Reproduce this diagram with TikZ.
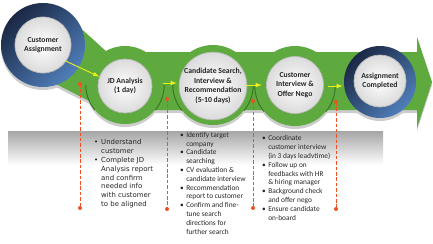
\documentclass[tikz,border=0pt]{standalone}
\usepackage{fontspec}
\setmainfont{Carlito}
\newfontfamily\verd{DejaVu Sans}
\usetikzlibrary{calc}

\definecolor{band}{RGB}{94,170,62}
\definecolor{bandedge}{RGB}{56,116,36}
\definecolor{navy}{RGB}{26,40,68}
\definecolor{steel}{RGB}{80,126,186}
\definecolor{flash}{RGB}{232,240,24}
\definecolor{lead}{RGB}{240,80,36}

\tikzset{
  floor/.style={fill=gray!40},
  loop/.style={circle, fill=band, inner sep=0pt},
  tube/.style={circle, inner sep=0pt, top color=navy, bottom color=steel, shading angle=45},
  core/.style={circle, inner sep=0pt, inner color=white, outer color=gray!28,
    draw=gray!55, line width=0.6pt, align=center, text=black!85,
    font=\fontsize{6.6}{8.2}\selectfont\bfseries},
  seam/.style={draw=bandedge, line width=0.8pt},
  flow/.style={draw=flash, line width=0.8pt, -latex},
  lead/.style={draw=lead, line width=0.85pt, dash pattern=on 3pt off 1.6pt},
  pin/.style={fill=lead},
  note/.style={anchor=north west, inner sep=0pt, text=black!85}
}

\begin{document}
\begin{tikzpicture}[x=0.03cm, y=-0.03cm]
  \useasboundingbox (0,0) rectangle (433,243);

  % grey floor under the arrow
  \shade[top color=gray!70, bottom color=white] (8,131) rectangle (383,165);

  % shadow of the arrow
  \begin{scope}[shift={(0,3)}]
    \fill[floor] (76,24) -- (107,52) -- (417,52) -- (417,37) -- (432,82)
      -- (417,128) -- (417,110) -- (107,110) -- (48,80) -- cycle;
    \fill[floor] (43,45) circle (42);
    \fill[floor] (125,85) circle (39);
    \fill[floor] (213,85) circle (40);
    \fill[floor] (295,86) circle (40);
    \fill[floor] (380,82) circle (36);
  \end{scope}

  % the arrow body
  \fill[band] (76,24) -- (107,52) -- (417,52) -- (417,37) -- (432,82)
    -- (417,128) -- (417,110) -- (107,110) -- (48,80) -- cycle;
  \node[loop, minimum size=2.34cm] (rjd) at (125,85) {};
  \node[loop, minimum size=2.4cm] (rcs) at (213,85) {};
  \node[loop, minimum size=2.4cm] (rci) at (295,86) {};

  % ring edges inside the band
  \draw[seam] (rjd.west) arc[start angle=180, end angle=140, radius=39];
  \draw[seam] (rjd.east) arc[start angle=0, end angle=40, radius=39];
  \draw[seam] (rcs.west) arc[start angle=180, end angle=140, radius=40];
  \draw[seam] (rcs.east) arc[start angle=0, end angle=40, radius=40];
  \draw[seam] (rci.west) arc[start angle=180, end angle=140, radius=40];
  \draw[seam] (rci.east) arc[start angle=0, end angle=40, radius=40];

  % start and end rings
  \node[tube, minimum size=2.52cm] (rca) at (43,45) {};
  \node[tube, minimum size=2.16cm] (rac) at (380,82) {};

  % steps
  \node[core, minimum size=1.68cm] (ca) at (43,45) {Customer\\Assignment};
  \node[core, minimum size=1.62cm] (jd) at (125,86) {JD Analysis\\(1 day)};
  \node[core, minimum size=1.74cm] (cs) at (213,86) {Candidate Search,\\Interview \&\\Recommendation\\(5-10 days)};
  \node[core, minimum size=1.71cm] (ci) at (295,85) {Customer\\Interview \&\\Offer Nego};
  \node[core, minimum size=1.56cm] (ac) at (380,81) {Assignment\\Completed};

  \draw[flow] (ca.-35) -- (jd.160);
  \draw[flow] ($(rjd.east)+(-1,-2)$) -- ($(rcs.west)+(4,-2)$);
  \draw[flow] ($(rcs.east)+(-8,0)$) -- ($(rci.west)+(7,-1)$);
  \draw[flow] ($(rci.east)+(-7,0)$) -- ($(rac.west)+(-1,4)$);

  % leader lines down to the notes
  \coordinate (t1) at (80,84);   \coordinate (b1) at (80,208);
  \coordinate (t2) at (167,99);  \coordinate (b2) at (167,209);
  \coordinate (t3) at (253,101); \coordinate (b3) at (253,208);
  \coordinate (t4) at (336,102); \coordinate (b4) at (336,209);
  \draw[lead] (t1) -- (b1);
  \draw[lead] (t2) -- (b2);
  \draw[lead] (t3) -- (b3);
  \draw[lead] (t4) -- (b4);
  \foreach \p in {t1,b1,t2,b2,t3,b3,t4,b4}
    \fill[pin] (\p) circle (2);

  % notes
  \node[note, font=\verd\fontsize{5.9}{7.6}\selectfont] (n1) at (94,138) {%
    \begin{tabular}{@{}c@{\hspace{2.5pt}}l@{}}
      \textbullet & Understand\\
                  & customer\\
      \textbullet & Complete JD\\
                  & Analysis report\\
                  & and confirm\\
                  & needed info\\
                  & with customer\\
                  & to be aligned
    \end{tabular}};
  \node[note, font=\fontsize{6.3}{7.5}\selectfont] (n2) at (180,131) {%
    \begin{tabular}{@{}c@{\hspace{2pt}}l@{}}
      \textbullet & Identify target\\
                  & company\\
      \textbullet & Candidate\\
                  & searching\\
      \textbullet & CV evaluation \&\\
                  & candidate interview\\
      \textbullet & Recommendation\\
                  & report to customer\\
      \textbullet & Confirm and fine-\\
                  & tune search\\
                  & directions for\\
                  & further search
    \end{tabular}};
  \node[note, font=\fontsize{6.3}{7.6}\selectfont] (n3) at (262,134) {%
    \begin{tabular}{@{}c@{\hspace{2pt}}l@{}}
      \textbullet & Coordinate\\
                  & customer interview\\
                  & (in 3 days leadvtime)\\
      \textbullet & Follow up on\\
                  & feedbacks with HR\\
                  & \& hiring manager\\
      \textbullet & Background check\\
                  & and offer nego\\
      \textbullet & Ensure candidate\\
                  & on-board
    \end{tabular}};
\end{tikzpicture}
\end{document}
